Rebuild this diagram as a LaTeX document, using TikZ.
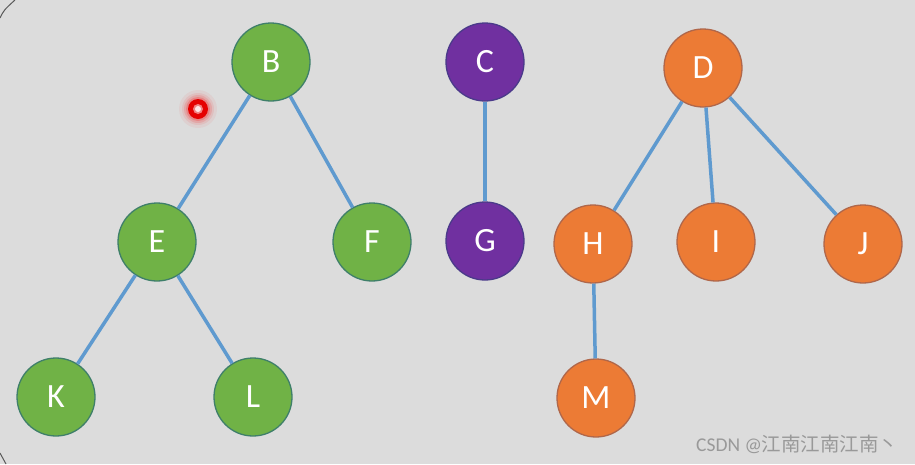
\documentclass[tikz,border=0pt]{standalone}
\usepackage{fontspec}
\setmainfont{Carlito}
\newfontfamily\cjkfont{Noto Sans CJK SC}
\begin{document}
\begin{tikzpicture}[x=1pt,y=-1pt,
  vtx/.style={circle,minimum size=78pt,inner sep=0pt,line width=1.3pt,text=white,font=\fontsize{34}{34}\selectfont},
  gv/.style={vtx,fill=green1,draw=green2},
  pv/.style={vtx,fill=purple1,draw=purple2},
  ov/.style={vtx,fill=orange1,draw=orange2},
  edge/.style={draw=edgeblue,line width=3.5pt}]
\definecolor{bg}{HTML}{DCDCDC}
\definecolor{green1}{HTML}{70B246}
\definecolor{green2}{HTML}{3F7F6A}
\definecolor{purple1}{HTML}{7030A0}
\definecolor{purple2}{HTML}{4B3A8A}
\definecolor{orange1}{HTML}{EC7B35}
\definecolor{orange2}{HTML}{B0674A}
\definecolor{edgeblue}{HTML}{5F9ACF}
\fill[bg] (0,0) rectangle (915,464);
\useasboundingbox (0,0) rectangle (915,464);
\draw[black!65,line width=1pt] (0,18) .. controls (4,10) .. (15,0);
\draw[black!65,line width=1pt] (0,453) -- (6,464);
% nodes
\node[gv] (B) at (271,62) {B};
\node[pv] (C) at (485,62) {C};
\node[ov] (D) at (703,68) {D};
\node[gv] (E) at (157,242) {E};
\node[gv] (F) at (372,242) {F};
\node[pv] (G) at (485,241) {G};
\node[ov] (H) at (593,244) {H};
\node[ov] (I) at (716,242) {I};
\node[ov] (J) at (863,244) {J};
\node[gv] (K) at (56,397) {K};
\node[gv] (L) at (253,397) {L};
\node[ov] (M) at (596,398) {M};
% edges
\path[edge] (B) -- (E);
\path[edge] (B) -- (F);
\path[edge] (C) -- (G);
\path[edge] (D) -- (H);
\path[edge] (D) -- (I);
\path[edge] (D) -- (J);
\path[edge] (E) -- (K);
\path[edge] (E) -- (L);
\path[edge] (H) -- (M);
% laser dot
\foreach \r/\o in {19/0.05,16/0.08,14/0.12,12/0.2}{\fill[red,opacity=\o] (198,109) circle[radius=\r];}
\fill[red!90!black] (198,109) circle[radius=10];
\fill[white,opacity=0.5] (198,109) circle[radius=5];
\fill[white,opacity=0.8] (198,109) circle[radius=3];
% watermark
\node[text=black!40,font=\fontsize{19.5}{19.5}\selectfont,anchor=east] (wm) at (902,444) {CSDN @{\cjkfont 江南江南江南丶}};
\end{tikzpicture}
\end{document}
